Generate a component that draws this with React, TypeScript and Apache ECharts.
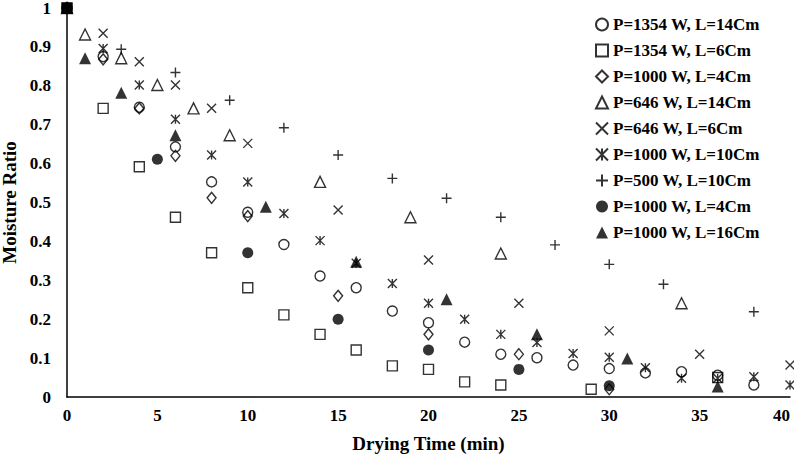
import React, { useEffect, useRef } from 'react';
import * as echarts from 'echarts';

// drying curves, time in min / moisture ratio
const circleTime = [0, 2, 4, 6, 8, 10, 12, 14, 16, 18, 20, 22, 24, 26, 28, 30, 32, 34, 36, 38];
const circleValue = [1, 0.875, 0.745, 0.643, 0.553, 0.475, 0.392, 0.311, 0.281, 0.221, 0.191, 0.141, 0.11, 0.101, 0.082, 0.073, 0.062, 0.065, 0.056, 0.031];

const squareTime = [0, 2, 4, 6, 8, 10, 12, 14, 16, 18, 20, 22, 24, 29, 36];
const squareValue = [1, 0.742, 0.592, 0.462, 0.371, 0.281, 0.211, 0.161, 0.121, 0.08, 0.071, 0.039, 0.031, 0.02, 0.05];

const diamondTime = [0, 2, 4, 6, 8, 10, 15, 20, 25, 30];
const diamondValue = [1, 0.868, 0.742, 0.62, 0.512, 0.465, 0.26, 0.161, 0.11, 0.02];

const triangleTime = [0, 1, 3, 5, 7, 9, 14, 19, 24, 34];
const triangleValue = [1, 0.932, 0.871, 0.802, 0.742, 0.673, 0.553, 0.462, 0.369, 0.241];

const crossTime = [0, 2, 4, 6, 8, 10, 15, 20, 25, 30, 35, 40];
const crossValue = [1, 0.935, 0.862, 0.802, 0.742, 0.652, 0.481, 0.352, 0.241, 0.17, 0.11, 0.082];

const starTime = [0, 2, 4, 6, 8, 10, 12, 14, 16, 18, 20, 22, 24, 26, 28, 30, 32, 34, 36, 38, 40];
const starValue = [1, 0.896, 0.802, 0.714, 0.622, 0.553, 0.472, 0.402, 0.344, 0.292, 0.241, 0.2, 0.161, 0.14, 0.112, 0.102, 0.075, 0.048, 0.048, 0.052, 0.031];

const plusTime = [0, 3, 6, 9, 12, 15, 18, 21, 24, 27, 30, 33, 38];
const plusValue = [1, 0.894, 0.834, 0.763, 0.692, 0.622, 0.562, 0.511, 0.462, 0.391, 0.341, 0.29, 0.219];

const dotTime = [0, 5, 10, 15, 20, 25, 30];
const dotValue = [1, 0.611, 0.371, 0.2, 0.121, 0.071, 0.029];

const solidTriTime = [0, 1, 3, 6, 11, 16, 21, 26, 31, 36];
const solidTriValue = [1, 0.871, 0.782, 0.673, 0.489, 0.348, 0.251, 0.161, 0.099, 0.027];

// all runs start at (0, 1), where the markers pile up into a black block
const startTime = [0];
const startValue = [1];

const seriesNames = [
  'P=1354 W, L=14Cm',
  'P=1354 W, L=6Cm',
  'P=1000 W, L=4Cm',
  'P=646 W, L=14Cm',
  'P=646 W, L=6Cm',
  'P=1000 W, L=10Cm',
  'P=500 W, L=10Cm',
  'P=1000 W, L=4Cm ',
  'P=1000 W, L=16Cm',
];

const FONT = "'Liberation Serif', 'Times New Roman', serif";

const pairs = (t: number[], v: number[]) => t.map((x, i) => [x, v[i]]);

const openStyle = { color: 'rgba(0,0,0,0)', borderColor: '#000', borderWidth: 1.4 };
const solidStyle = { color: '#000', borderColor: '#000', borderWidth: 0 };

const X_PATH = 'path://M0,0L10,10M10,0L0,10';
const STAR_PATH = 'path://M0,0L10,10M10,0L0,10M5,0L5,10';
const PLUS_PATH = 'path://M5,0L5,10M0,5L10,5';

export default function App() {
  const chartRef = useRef<HTMLDivElement>(null);

  useEffect(() => {
    if (!chartRef.current) return;
    const chart = echarts.init(chartRef.current, undefined, { renderer: 'svg' });

    const defs = [
      { t: circleTime, v: circleValue, symbol: 'circle', size: 10, style: openStyle },
      { t: squareTime, v: squareValue, symbol: 'rect', size: 10, style: openStyle },
      { t: diamondTime, v: diamondValue, symbol: 'diamond', size: [9, 11], style: openStyle },
      { t: triangleTime, v: triangleValue, symbol: 'triangle', size: 11, style: openStyle },
      { t: crossTime, v: crossValue, symbol: X_PATH, size: 9, style: openStyle },
      { t: starTime, v: starValue, symbol: STAR_PATH, size: 9, style: openStyle },
      { t: plusTime, v: plusValue, symbol: PLUS_PATH, size: 10, style: openStyle },
      { t: dotTime, v: dotValue, symbol: 'circle', size: 11, style: solidStyle },
      { t: solidTriTime, v: solidTriValue, symbol: 'triangle', size: 12, style: solidStyle },
    ];

    const series: any[] = defs.map((d, i) => ({
      name: seriesNames[i],
      type: 'scatter',
      data: pairs(d.t, d.v),
      symbol: d.symbol,
      symbolSize: d.size,
      itemStyle: d.style,
      clip: false,
    }));

    series.push({
      name: 'start',
      type: 'scatter',
      data: pairs(startTime, startValue),
      symbol: 'rect',
      symbolSize: 11,
      itemStyle: solidStyle,
      z: 5,
      clip: false,
    });

    chart.setOption({
      animation: false,
      backgroundColor: '#fff',
      textStyle: { fontFamily: FONT },
      grid: { left: 67, right: 4, top: 8, bottom: 60, containLabel: false, outerBoundsMode: 'none' },
      legend: {
        orient: 'vertical',
        left: 590,
        top: 11,
        itemWidth: 12,
        itemHeight: 12,
        itemGap: 9,
        data: seriesNames,
        textStyle: { fontFamily: FONT, fontWeight: 'bold', fontSize: 17, color: '#000' },
      },
      xAxis: {
        type: 'value',
        min: 0,
        max: 40,
        interval: 5,
        name: 'Drying Time (min)',
        nameLocation: 'middle',
        nameGap: 37,
        nameTextStyle: { fontFamily: FONT, fontWeight: 'bold', fontSize: 19, color: '#000' },
        axisLine: { show: true, lineStyle: { color: '#000', width: 1.5 } },
        axisTick: { show: false },
        splitLine: { show: false },
        axisLabel: {
          fontFamily: FONT,
          fontWeight: 'bold',
          fontSize: 17,
          color: '#000',
          margin: 10,
          alignMaxLabel: 'right',
        },
      },
      yAxis: {
        type: 'value',
        min: 0,
        max: 1,
        interval: 0.1,
        name: 'Moisture Ratio',
        nameLocation: 'middle',
        nameGap: 46,
        nameTextStyle: { fontFamily: FONT, fontWeight: 'bold', fontSize: 19, color: '#000' },
        axisLine: { show: true, lineStyle: { color: '#000', width: 1.5 } },
        axisTick: { show: false },
        splitLine: { show: false },
        axisLabel: {
          fontFamily: FONT,
          fontWeight: 'bold',
          fontSize: 17,
          color: '#000',
          margin: 16,
          formatter: (v: number) => (v === 0 || v === 1 ? String(v) : v.toFixed(1)),
        },
      },
      series,
    });

    return () => {
      chart.dispose();
    };
  }, []);

  return (
    <div style={{ position: 'fixed', left: 0, top: 0, width: 794, height: 457, background: '#fff' }}>
      <div ref={chartRef} style={{ width: '100%', height: '100%' }} />
    </div>
  );
}
